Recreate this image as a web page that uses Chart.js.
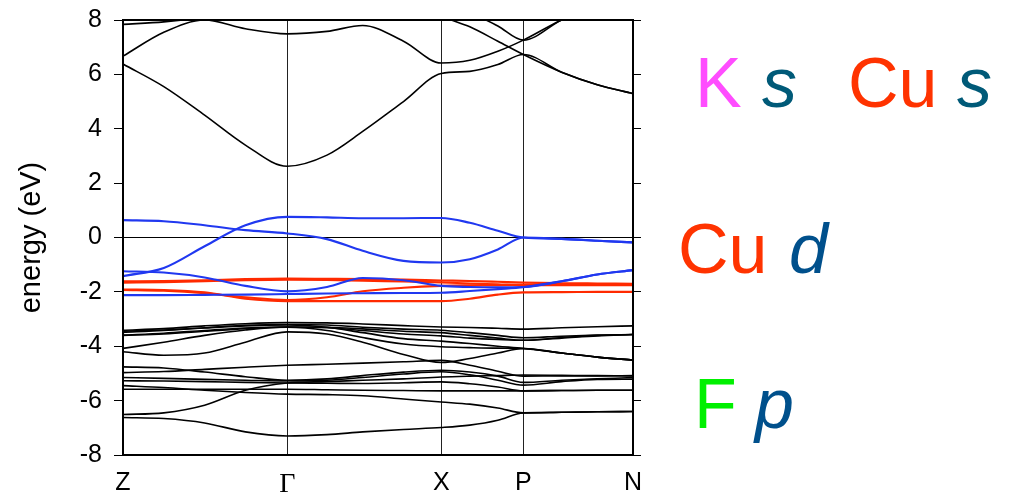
<!DOCTYPE html>
<html><head><meta charset="utf-8">
<script src="https://cdn.jsdelivr.net/npm/chart.js@4.4.1/dist/chart.umd.min.js"></script>
<style>html,body{margin:0;padding:0;background:#fff}#wrap{position:relative;width:1014px;height:498px}</style>
</head><body><div id="wrap"><canvas id="c" width="1014" height="498"></canvas></div>
<script>
// k-path sample points (Z ... Γ ... X ... P ... N)
const kpts = [0, 0.08, 0.16, 0.24, 0.322, 0.40, 0.47, 0.55, 0.624, 0.68, 0.735, 0.785, 0.86, 0.93, 1.0];
const symK = [0, 0.322, 0.624, 0.785, 1.0];
const symLabels = ['Z', 'Γ', 'X', 'P', 'N'];
const yTicks = [-8, -6, -4, -2, 0, 2, 4, 6, 8];

// conduction bands (eV)
const cbA = [6.38, 5.55, 4.5, 3.4, 2.62, 3.03, 3.9, 5.0, 6.03, 6.11, 6.36, 6.73, 6.08, 5.62, 5.29];
const cbB = [6.67, 7.55, 8.0, 7.68, 7.49, 7.58, 7.8, 7.22, 6.42, 6.52, 6.85, 7.26, 8.0, 8.5, 9.0];
const cbC = [null, null, null, null, null, null, null, 9.0, 8.15, 7.75, 7.22, 6.73, 6.08, 5.62, 5.29];
const cbD = [null, null, null, null, null, null, null, null, 8.9, 8.3, 7.78, 7.26, 8.0, 8.5, 9.0];
const cbE = [7.84, 7.93, 8.1, 8.4, 8.6, null, null, null, null, null, null, null, null, null, null];

// blue bands (Cu d / s mixed)
const bl1 = [0.64, 0.6, 0.45, 0.27, 0.15, -0.06, -0.49, -0.86, -0.92, -0.8, -0.44, 0, -0.05, -0.12, -0.18];
const bl2 = [-1.42, -1.12, -0.32, 0.45, 0.76, 0.74, 0.71, 0.71, 0.72, 0.54, 0.25, 0, -0.05, -0.12, -0.18];
const bl3 = [-1.24, -1.29, -1.47, -1.78, -1.98, -1.82, -1.49, -1.57, -1.78, -1.82, -1.83, -1.82, -1.61, -1.36, -1.2];
const bl4 = [-2.12, -2.12, -2.11, -2.1, -2.08, -2.06, -2.05, -2.04, -2.03, -1.97, -1.9, -1.83, -1.61, -1.36, -1.2];

// red bands (Cu d)
const rd1 = [-1.61, -1.6, -1.57, -1.53, -1.51, -1.52, -1.53, -1.55, -1.58, -1.6, -1.63, -1.66, -1.68, -1.69, -1.7];
const rd2 = [-1.66, -1.64, -1.61, -1.57, -1.55, -1.56, -1.59, -1.62, -1.65, -1.69, -1.72, -1.75, -1.75, -1.75, -1.75];
const rd3 = [-1.91, -1.93, -2.02, -2.25, -2.34, -2.34, -2.34, -2.34, -2.34, -2.25, -2.1, -2.02, -2.01, -2.0, -2.0];
const rd4 = [-1.93, -1.96, -2.05, -2.2, -2.3, -2.2, -1.98, -1.85, -1.78, -1.76, -1.75, -1.74, -1.74, -1.74, -1.74];

// valence bands (F p)
const vU1 = [-3.41, -3.35, -3.25, -3.17, -3.13, -3.14, -3.18, -3.24, -3.29, -3.31, -3.34, -3.37, -3.32, -3.28, -3.25];
const vU2 = [-3.49, -3.42, -3.32, -3.23, -3.2, -3.22, -3.3, -3.37, -3.41, -3.5, -3.6, -3.69, -3.63, -3.59, -3.57];
const vU3 = [-3.59, -3.52, -3.42, -3.33, -3.29, -3.3, -3.36, -3.45, -3.5, -3.6, -3.7, -3.78, -3.68, -3.6, -3.57];
const vU4 = [-4.08, -3.85, -3.6, -3.4, -3.29, -3.32, -3.42, -3.55, -3.62, -3.7, -3.75, -3.78, -3.7, -3.62, -3.57];
const vU5 = [-4.2, -4.33, -4.25, -3.85, -3.47, -3.55, -3.85, -4.3, -4.6, -4.45, -4.25, -4.08, -4.25, -4.4, -4.51];
const vU6 = [-3.45, -3.4, -3.33, -3.25, -3.22, -3.3, -3.5, -3.72, -3.81, -3.9, -4.0, -4.08, -4.25, -4.4, -4.51];
const vU7 = [-3.6, -3.55, -3.45, -3.35, -3.3, -3.42, -3.68, -3.92, -4.02, -4.05, -4.07, -4.08, -4.25, -4.4, -4.51];
const vM1 = [-4.97, -4.93, -4.85, -4.77, -4.7, -4.66, -4.62, -4.57, -4.52, -4.7, -4.92, -5.1, -5.09, -5.09, -5.08];
const vM2 = [-4.76, -4.8, -4.95, -5.12, -5.25, -5.2, -5.08, -4.95, -4.88, -4.95, -5.1, -5.33, -5.25, -5.2, -5.15];
const vM3 = [-5.15, -5.18, -5.22, -5.25, -5.28, -5.25, -5.15, -5.02, -4.94, -5.05, -5.25, -5.43, -5.3, -5.22, -5.21];
const vM4 = [-5.27, -5.28, -5.3, -5.33, -5.35, -5.36, -5.37, -5.34, -5.31, -5.38, -5.5, -5.64, -5.63, -5.62, -5.62];
const vM5 = [-5.58, -5.58, -5.58, -5.58, -5.58, -5.6, -5.62, -5.63, -5.64, -5.64, -5.64, -5.64, -5.63, -5.62, -5.62];
const vL2 = [-6.51, -6.45, -6.17, -5.62, -5.35, -5.3, -5.25, -5.2, -5.13, -5.1, -5.08, -5.06, -5.07, -5.08, -5.09];
const vL3 = [-5.45, -5.52, -5.62, -5.7, -5.76, -5.78, -5.82, -5.94, -6.05, -6.13, -6.27, -6.45, -6.43, -6.41, -6.4];
const vL1 = [-6.62, -6.66, -6.82, -7.15, -7.3, -7.25, -7.15, -7.06, -6.99, -6.9, -6.72, -6.45, -6.43, -6.41, -6.4];

const blackBands = [cbA, cbB, cbC, cbD, cbE, vU1, vU2, vU3, vU4, vU5, vU6, vU7, vM1, vM2, vM3, vM4, vM5, vL2, vL3, vL1];
const blueBands = [bl1, bl2, bl3, bl4];
const redBands = [rd1, rd2, rd3, rd4];

function mk(vals, color, width, order) {
  return {
    data: kpts.map((k, i) => ({x: k, y: vals[i]})),
    borderColor: color, borderWidth: width, pointRadius: 0,
    cubicInterpolationMode: 'monotone', fill: false, order: order, spanGaps: false
  };
}
const datasets = [
  ...blueBands.map(v => mk(v, '#2038f0', 2.1, 0)),
  ...redBands.map(v => mk(v, '#ff2a00', 2.1, 1)),
  ...blackBands.map(v => mk(v, '#000000', 1.6, 2))
];

const legendTexts = [
  {t: 'K', x: 695, y: 107, c: '#ff4dff', it: false},
  {t: 's', x: 762, y: 107, c: '#005a78', it: true},
  {t: 'Cu', x: 848, y: 107, c: '#ff3300', it: false},
  {t: 's', x: 957, y: 107, c: '#005a78', it: true},
  {t: 'Cu', x: 678, y: 273, c: '#ff3300', it: false},
  {t: 'd', x: 789, y: 273, c: '#00508c', it: true},
  {t: 'F', x: 694, y: 428, c: '#00f000', it: false},
  {t: 'p', x: 755, y: 428, c: '#00508c', it: true}
];

const framePlugin = {
  id: 'frame',
  afterDraw(chart) {
    const {ctx, chartArea: a} = chart;
    ctx.save();
    ctx.strokeStyle = '#000'; ctx.lineWidth = 2;
    ctx.strokeRect(a.left, a.top, a.right - a.left, a.bottom - a.top);
    ctx.textBaseline = 'alphabetic';
    legendTexts.forEach(o => {
      ctx.font = (o.it ? 'italic ' : '') + '70px "Liberation Sans", Arial, sans-serif';
      ctx.fillStyle = o.c;
      ctx.fillText(o.t, o.x, o.y);
    });
    ctx.restore();
  }
};

const noPad = s => { s.paddingTop = 0; s.paddingBottom = 0; };

new Chart(document.getElementById('c'), {
  type: 'line',
  data: {datasets},
  plugins: [framePlugin],
  options: {
    responsive: false, animation: false,
    layout: {padding: {top: 20, left: 0, right: 0, bottom: 0}},
    plugins: {legend: {display: false}, tooltip: {enabled: false}},
    scales: {
      x: {
        type: 'linear', min: 0, max: 1, position: 'bottom',
        afterBuildTicks: s => { s.ticks = symK.map(v => ({value: v})); },
        afterFit: s => { s.height = 43; s.paddingLeft = 0; s.paddingRight = 0; },
        ticks: {
          autoSkip: false, maxRotation: 0, color: '#000', padding: 13,
          callback: (v, i) => symLabels[i],
          font: ctx => ctx.index === 1 ? {family: '"Liberation Serif", serif', size: 28} : {family: '"Liberation Sans", Arial, sans-serif', size: 25}
        },
        grid: {color: '#222', lineWidth: 1, drawTicks: false},
        border: {display: true, color: '#000', width: 2}
      },
      y: {
        type: 'linear', min: -8, max: 8, position: 'left',
        afterBuildTicks: s => { s.ticks = yTicks.map(v => ({value: v})); },
        afterFit: s => { s.width = 123; noPad(s); },
        ticks: {color: '#000', padding: 12, font: {family: '"Liberation Sans", Arial, sans-serif', size: 25}},
        grid: {
          color: ctx => (ctx.tick && ctx.tick.value === 0) ? '#000' : 'rgba(0,0,0,0)',
          tickColor: '#000', tickLength: 9, lineWidth: 1
        },
        border: {display: true, color: '#000', width: 2},
        title: {display: true, text: 'energy (eV)', color: '#000', font: {family: '"Liberation Sans", Arial, sans-serif', size: 29}, padding: {top: 15, bottom: 0}}
      },
      y2: {
        type: 'linear', min: -8, max: 8, position: 'right',
        afterBuildTicks: s => { s.ticks = yTicks.map(v => ({value: v})); },
        afterFit: s => { s.width = 381; noPad(s); },
        ticks: {callback: () => '', padding: 0},
        grid: {drawOnChartArea: false, tickColor: '#000', tickLength: 8, lineWidth: 1},
        border: {display: true, color: '#000', width: 2}
      }
    }
  }
});
</script></body></html>
